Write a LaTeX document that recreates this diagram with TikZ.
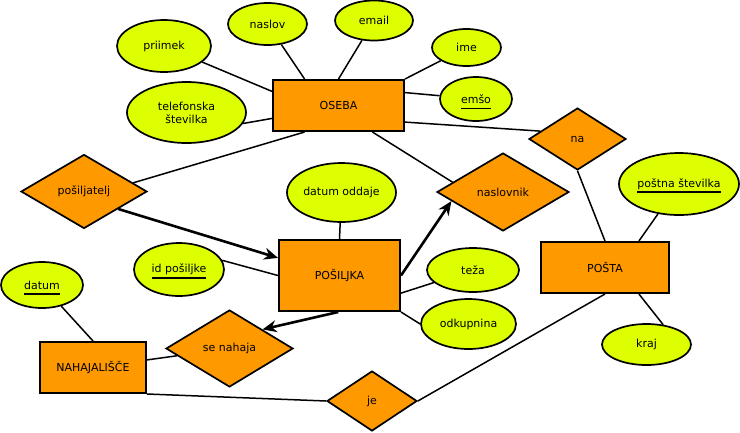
\documentclass[tikz,border=0pt]{standalone}
\usepackage{fontspec}
\setmainfont{DejaVu Sans}
\usepackage{xcolor}
\usepackage{tikz}
\usetikzlibrary{shapes.geometric, arrows.meta}

\definecolor{entorange}{RGB}{255,153,0}
\definecolor{attrlime}{RGB}{221,255,0}
\newsavebox{\keybox}
\newcommand{\keyattr}[1]{\sbox{\keybox}{#1}\smash{\rlap{\rule[-6pt]{\wd\keybox}{1.8pt}}}\usebox{\keybox}}

\begin{document}
\begin{tikzpicture}[
	x=1pt, y=-1pt,
	font=\fontsize{11}{13}\selectfont,
	entity/.style={draw, rectangle, line width=2pt, fill=entorange, inner sep=0pt},
	attrib/.style={draw, ellipse, line width=1.7pt, fill=attrlime, inner sep=0pt, align=center},
	relation/.style={draw, diamond, aspect=1.7, line width=1.7pt, fill=entorange, inner sep=0pt},
	conn/.style={line width=1.5pt},
	arrow/.style={-{Stealth[length=14pt, width=12pt]}, line width=2.6pt}
]
	\useasboundingbox (0,0) rectangle (740,432);

	% entities
	\node (oseba) [entity, minimum width=131pt, minimum height=51pt] at (338.5,105.5) {OSEBA};
	\node (posiljka) [entity, minimum width=121pt, minimum height=71pt] at (339.5,275.5) {POŠILJKA};
	\node (posta) [entity, minimum width=128pt, minimum height=51pt] at (605,267.5) {POŠTA};
	\node (nahajalisce) [entity, minimum width=106pt, minimum height=51pt] at (93,367.5) {NAHAJALIŠČE};

	% attributes
	\node (priimek) [attrib, minimum width=94pt, minimum height=52pt] at (164,46) {priimek};
	\node (naslov) [attrib, minimum width=79pt, minimum height=42pt] at (267.5,24) {naslov};
	\node (email) [attrib, minimum width=78pt, minimum height=40pt] at (374,20.5) {email};
	\node (ime) [attrib, minimum width=69pt, minimum height=37pt] at (466.5,47.5) {ime};
	\node (emso) [attrib, minimum width=72pt, minimum height=44pt] at (476,99) {\keyattr{emšo}};
	\node (telefonska) [attrib, minimum width=119pt, minimum height=61pt] at (186.5,112.5) {telefonska\\številka};
	\node (datumoddaje) [attrib, minimum width=109pt, minimum height=59pt] at (341.5,192.5) {datum oddaje};
	\node (postnastevilka) [attrib, minimum width=120pt, minimum height=62pt] at (679,184) {\keyattr{poštna številka}};
	\node (idposiljke) [attrib, minimum width=90pt, minimum height=53pt] at (179,269.5) {\keyattr{id pošiljke}};
	\node (datum) [attrib, minimum width=82pt, minimum height=46pt] at (42,285) {\keyattr{datum}};
	\node (teza) [attrib, minimum width=92pt, minimum height=44pt] at (473,270) {teža};
	\node (odkupnina) [attrib, minimum width=95pt, minimum height=50pt] at (468.5,324) {odkupnina};
	\node (kraj) [attrib, minimum width=89pt, minimum height=41pt] at (646.5,344.5) {kraj};

	% relationships
	\node (posiljatelj) [relation, minimum width=126pt, minimum height=74pt] at (84,191.5) {pošiljatelj};
	\node (naslovnik) [relation, minimum width=132pt, minimum height=78pt] at (503,192) {naslovnik};
	\node (na) [relation, minimum width=97pt, minimum height=62pt] at (577.5,139) {na};
	\node (senahaja) [relation, minimum width=127pt, minimum height=77pt] at (229.5,348.5) {se nahaja};
	\node (je) [relation, minimum width=90pt, minimum height=60pt] at (372,401) {je};

	% connectors
	\draw [conn] (priimek) -- (oseba.168);
	\draw [conn] (naslov) -- (oseba.142);
	\draw [conn] (email) -- (oseba.north);
	\draw [conn] (ime) -- (oseba.north east);
	\draw [conn] (emso) -- (oseba.11);
	\draw [conn] (telefonska.-11) -- (oseba.191);
	\draw [conn] (posiljatelj.10) -- (oseba.218);
	\draw [conn] (naslovnik.169) -- (oseba.-38);
	\draw [conn] (na.168) -- (oseba.-14);
	\draw [conn] (na.south) -- (posta.north);
	\draw [conn] (postnastevilka) -- (posta.38);
	\draw [conn] (kraj.50) -- (posta.-38);
	\draw [conn] (posta.south) -- (je.east);
	\draw [conn] (nahajalisce.south east) -- (je.west);
	\draw [conn] (senahaja) -- (nahajalisce.8);
	\draw [conn] (datum) -- (nahajalisce.north);
	\draw [conn] (datumoddaje) -- (posiljka.north);
	\draw [conn] (idposiljke.12) -- (posiljka.west);
	\draw [conn] (teza) -- (posiljka.-16);
	\draw [conn] (odkupnina.west) -- (posiljka.south east);

	\draw [arrow] (posiljatelj.-27) -- (posiljka.164);
	\draw [arrow] (posiljka.east) -- (naslovnik.190);
	\draw [arrow] (posiljka.-92) -- (senahaja.30);

\end{tikzpicture}
\end{document}
